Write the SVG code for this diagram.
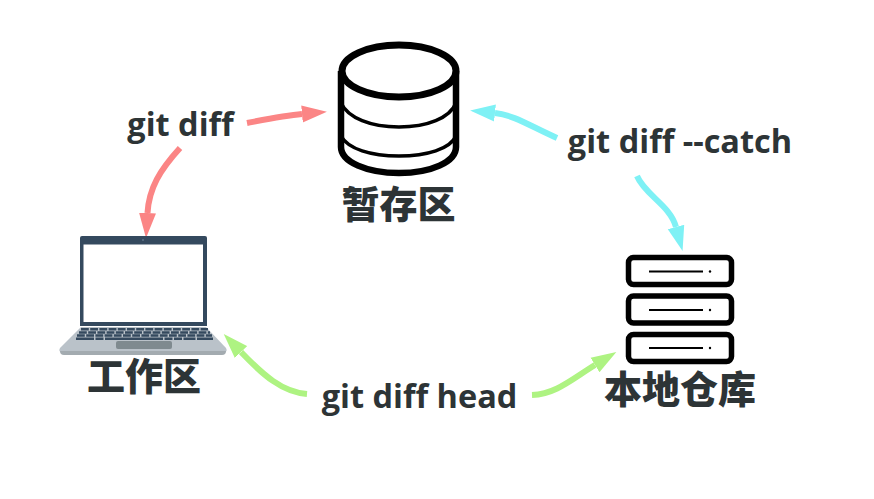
<svg xmlns="http://www.w3.org/2000/svg" width="874" height="499" viewBox="0 0 874 499">
<style>
.t{font-family:"Open Sans","Noto Sans CJK SC",sans-serif;font-weight:700;fill:#2d3436;font-size:32.500px;text-anchor:middle}
.c{font-family:"Noto Sans CJK SC","Noto Sans",sans-serif;font-size:38px;font-weight:900}
.k{fill:none;stroke:#000}
.conn{fill:none;stroke-width:6}
.r{stroke:#fb8585;marker-end:url(#mr)}
.b{stroke:#7ef1f5;marker-end:url(#mb)}
.g{stroke:#aef382;marker-end:url(#mg)}
.srv{fill:#fff;stroke:#000;stroke-width:5.500}
.ln{stroke:#000;stroke-width:2}
.key{fill:none;stroke:#34495e;stroke-width:2.400}
</style>
<defs>
<marker id="mr" markerUnits="userSpaceOnUse" markerWidth="27" markerHeight="18" refX="0" refY="9" orient="auto"><path d="M0 .5L25 9 0 17.500z" fill="#fb8585"/></marker>
<marker id="mb" markerUnits="userSpaceOnUse" markerWidth="27" markerHeight="18" refX="0" refY="9" orient="auto"><path d="M0 .5L25 9 0 17.500z" fill="#7ef1f5"/></marker>
<marker id="mg" markerUnits="userSpaceOnUse" markerWidth="27" markerHeight="18" refX="0" refY="9" orient="auto"><path d="M0 .5L25 9 0 17.500z" fill="#aef382"/></marker>
</defs>
<rect width="874" height="499" fill="#fff"/>
<g id="connectors">
<path class="conn r" d="M247 123C268 119 285 115.500 302 114"/>
<path class="conn r" d="M180 148C160 170 149 188 147.500 213"/>
<path class="conn b" d="M557 138C530 126 514 115 495 113"/>
<path class="conn b" d="M637 176C645 195 670 205 676 227"/>
<path class="conn g" d="M307 394C282 392 263 375 241 352"/>
<path class="conn g" d="M532 395C556 394 572 379 595 365"/>
</g>
<g id="stage">
<path class="k" stroke-width="6.500" d="M341 71V147C341 162 367 173 399 173S456 162 456 147V71"/>
<ellipse class="k" stroke-width="7" cx="399" cy="71" rx="57" ry="26"/>
<path class="k" stroke-width="3.500" d="M341 103C348 118 371 127 399 127S450 118 456 103"/>
<path class="k" stroke-width="3.500" d="M341 136C348 149 371 156 399 156S450 149 456 136"/>
<text class="t c" x="398.500" y="218">暂存区</text>
</g>
<g id="workspace">
<path fill="#34495e" d="M82 236H205Q207 236 207 238V326H80V238Q80 236 82 236z"/>
<rect x="83.500" y="244.500" width="119.500" height="77.500" fill="#fff"/>
<circle cx="143" cy="240" r="1" fill="#5d7288"/>
<path fill="#bac2c9" d="M81 327H206L226 348Q228 352 224 352H62Q58 352 60 348z"/>
<path fill="#a3abb0" d="M60 351H226Q226 355 222 355H64Q60 355 60 351z"/>
<path class="key" stroke-dasharray="7.800 1.400" d="M81 329.200H208"/>
<path class="key" stroke-dasharray="7.800 1.400" d="M79 332.500H210"/>
<path class="key" stroke-dasharray="7.800 1.400" d="M77 335.500H212"/>
<path class="key" d="M76 338.700H213" stroke-dasharray="18 1.500 8 1.500 58 1.500 8 1.500 8 1.500 12 1.500 18"/>
<path fill="#7f8a8f" d="M118 341H170Q172 341 172 343V347Q172 349 170 349H118Q116 349 116 347V343Q116 341 118 341z"/>
<text class="t c" x="144" y="390">工作区</text>
</g>
<g id="repository">
<rect class="srv" x="628.500" y="257.500" width="103" height="27" rx="5"/>
<rect class="srv" x="628.500" y="296" width="103" height="27" rx="5"/>
<rect class="srv" x="628.500" y="334.500" width="103" height="27" rx="5"/>
<path class="ln" d="M649 271.500H703M649 310H703M649 348H703"/>
<circle cx="710" cy="271.500" r="1.200"/><circle cx="710" cy="310" r="1.200"/><circle cx="710" cy="348" r="1.200"/>
<text class="t c" x="680" y="403">本地仓库</text>
</g>
<g id="labels">
<text class="t" x="180.500" y="135.500">git diff</text>
<text class="t" x="680" y="152.500">git diff --catch</text>
<text class="t" x="419.500" y="407.500">git diff head</text>
</g>
</svg>
